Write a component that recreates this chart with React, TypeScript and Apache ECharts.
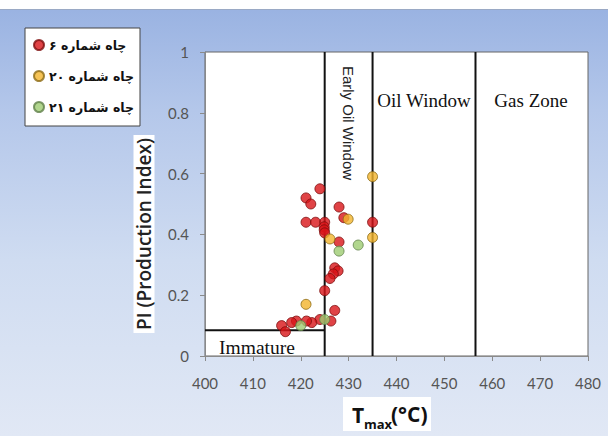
import React, { useEffect, useRef } from "react";
import * as echarts from "echarts";

// Well 6 (red)
const well6Tmax = [424.0, 421.1, 422.1, 428.0, 421.1, 423.1, 425.0, 424.9, 424.9, 425.0, 429.0, 435.0, 428.0, 427.1, 427.8, 426.8, 426.1, 425.0, 427.1, 424.0, 426.3, 422.3, 421.2, 419.1, 418.1, 416.0, 416.8];
const well6PI = [0.55, 0.52, 0.50, 0.49, 0.44, 0.44, 0.44, 0.425, 0.415, 0.405, 0.455, 0.44, 0.375, 0.29, 0.28, 0.27, 0.255, 0.215, 0.15, 0.12, 0.115, 0.11, 0.115, 0.115, 0.11, 0.10, 0.08];
// Well 20 (yellow)
const well20Tmax = [435.0, 429.9, 426.1, 435.0, 421.1];
const well20PI = [0.59, 0.45, 0.385, 0.39, 0.17];
// Well 21 (green)
const well21Tmax = [432.0, 428.0, 425.0, 420.0];
const well21PI = [0.365, 0.345, 0.12, 0.10];

const seriesNames = ["چاه شماره ۶", "چاه شماره ۲۰", "چاه شماره ۲۱"];

// Zone boundaries
const boundaryTmax = [425, 435, 456.5];
const immaturePI = 0.085;
const immatureTmaxStart = 400;

const xMin = 400, xMax = 480, xStep = 10;
const yMin = 0, yMax = 1, yStep = 0.2;

const zip = (a: number[], b: number[]) => a.map((v, i) => [v, b[i]]);

export default function App() {
  const ref = useRef<HTMLDivElement>(null);
  useEffect(() => {
    const el = ref.current!;
    const chart = echarts.init(el, null, { renderer: "svg" });
    const markerStyles = [
      { color: "#d81418", borderColor: "#7d0c0c" },
      { color: "#f2b42c", borderColor: "#8c6a14" },
      { color: "#9dcc72", borderColor: "#5f7f48" },
    ];
    const pts = [zip(well6Tmax, well6PI), zip(well20Tmax, well20PI), zip(well21Tmax, well21PI)];
    const lineStyle = { color: "#111", width: 2 };
    const boundarySeries: any[] = boundaryTmax.map((t) => ({
      type: "line",
      data: [[t, yMin], [t, yMax]],
      symbol: "none",
      lineStyle,
      silent: true,
      z: 1,
    }));
    boundarySeries.push({
      type: "line",
      data: [[immatureTmaxStart, immaturePI], [boundaryTmax[0], immaturePI]],
      symbol: "none",
      lineStyle,
      silent: true,
      z: 1,
    });
    const labelFont = { fontFamily: "Lato", fontSize: 15, color: "#555" };
    chart.setOption({
      animation: false,
      grid: {
        left: 205,
        right: 20,
        top: 52,
        bottom: 80,
        show: true,
        backgroundColor: "#ffffff",
        borderColor: "#666",
        borderWidth: 1,
      },
      legend: {
        orient: "vertical",
        left: 25,
        top: 28,
        data: seriesNames,
        itemWidth: 10,
        itemHeight: 10,
        itemGap: 15,
        padding: [9, 6, 11, 8],
        backgroundColor: "#ffffff",
        borderColor: "#444",
        borderWidth: 1,
        textStyle: { fontFamily: "DejaVu Sans", fontWeight: "bold", fontSize: 12.5, color: "#111", lineHeight: 16 },
      },
      xAxis: {
        type: "value",
        min: xMin,
        max: xMax,
        interval: xStep,
        splitLine: { show: false },
        axisLine: { show: true, lineStyle: { color: "#8a8a8a" } },
        axisTick: { show: true, inside: false, length: 5, lineStyle: { color: "#8a8a8a" } },
        axisLabel: { ...labelFont, margin: 19 },
      },
      yAxis: {
        type: "value",
        min: yMin,
        max: yMax,
        interval: yStep,
        splitLine: { show: false },
        axisLine: { show: true, lineStyle: { color: "#8a8a8a" } },
        axisTick: { show: true, inside: false, length: 5, lineStyle: { color: "#8a8a8a" } },
        axisLabel: { ...labelFont, margin: 16, formatter: (v: number) => String(Math.round(v * 10) / 10) },
      },
      series: [
        ...boundarySeries,
        ...pts.map((d, i) => ({
          name: seriesNames[i],
          type: "scatter",
          data: d,
          symbol: "circle",
          symbolSize: 10,
          itemStyle: { ...markerStyles[i], borderWidth: 1 },
          z: 3 + i,
        })),
      ],
      graphic: [
        {
          type: "text",
          x: 348,
          y: 123,
          rotation: -Math.PI / 2,
          style: { text: "Early Oil Window", fontFamily: "Liberation Sans", fontSize: 15, fill: "#222", align: "center", verticalAlign: "middle" },
        },
        {
          type: "text",
          x: 424,
          y: 100,
          style: { text: "Oil Window", fontFamily: "Liberation Serif", fontSize: 19, fill: "#111", align: "center", verticalAlign: "middle" },
        },
        {
          type: "text",
          x: 531,
          y: 100,
          style: { text: "Gas Zone", fontFamily: "Liberation Serif", fontSize: 19, fill: "#111", align: "center", verticalAlign: "middle" },
        },
        {
          type: "text",
          x: 257,
          y: 347,
          style: { text: "Immature", fontFamily: "Liberation Serif", fontSize: 19.5, fill: "#111", align: "center", verticalAlign: "middle" },
        },
        {
          type: "text",
          x: 144,
          y: 234,
          rotation: Math.PI / 2,
          style: {
            text: "PI (Production Index)",
            fontFamily: "Open Sans",
            fontWeight: 600,
            fontSize: 19,
            fill: "#222",
            align: "center",
            verticalAlign: "middle",
            backgroundColor: "#ffffff",
            padding: [1, 3, 1, 3],
          },
        },
        { type: "rect", shape: { x: 343, y: 397, width: 88, height: 34 }, style: { fill: "#ffffff" } },
        {
          type: "text",
          x: 352,
          y: 415,
          style: { text: "T", fontFamily: "Open Sans", fontWeight: "bold", fontSize: 21, fill: "#111", align: "left", verticalAlign: "middle" },
        },
        {
          type: "text",
          x: 364,
          y: 424,
          style: { text: "max", fontFamily: "Open Sans", fontWeight: "bold", fontSize: 13, fill: "#111", align: "left", verticalAlign: "middle" },
        },
        {
          type: "text",
          x: 391,
          y: 414,
          style: { text: "(°C)", fontFamily: "Open Sans", fontWeight: "bold", fontSize: 21, fill: "#111", align: "left", verticalAlign: "middle" },
        },
      ],
    });
    return () => chart.dispose();
  }, []);
  return (
    <div
      ref={ref}
      style={{
        position: "absolute",
        left: 0,
        top: 0,
        width: 608,
        height: 436,
        background:
          "linear-gradient(to bottom, #ffffff 0px, #ffffff 9px, #9a9fa8 9px, #9ab3e2 10px, #b4c7ea 110px, #cfdcf1 260px, #e1e8f5 436px)",
      }}
    />
  );
}
